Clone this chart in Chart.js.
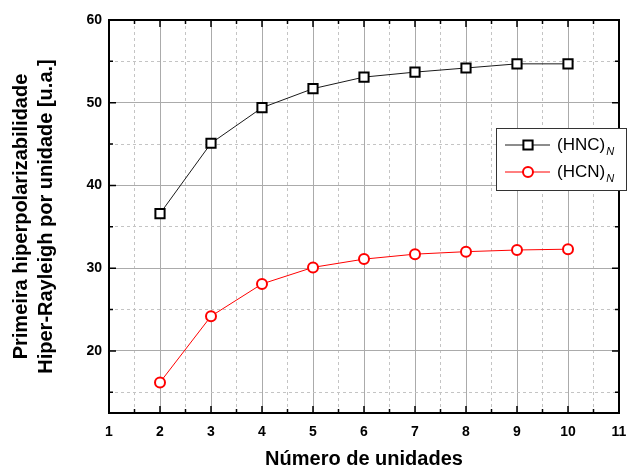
<!DOCTYPE html>
<html><head><meta charset="utf-8">
<script src="https://cdn.jsdelivr.net/npm/chart.js@4"></script>
<style>html,body{margin:0;padding:0;background:#fff;overflow:hidden}</style>
</head><body>
<canvas id="c" width="630" height="468" style="width:630px;height:468px;display:block"></canvas>
<script>
// ---- data ----
const units = [2, 3, 4, 5, 6, 7, 8, 9, 10];
const hncValues = [36.6, 45.1, 49.4, 51.7, 53.1, 53.7, 54.2, 54.7, 54.7];
const hcnValues = [16.2, 24.2, 28.1, 30.1, 31.1, 31.7, 32.0, 32.2, 32.3];
const seriesNames = ['(HNC)', '(HCN)'];
const seriesSub = 'N';
const xTitle = 'Número de unidades';
const yTitle = ['Primeira hiperpolarizabilidade', 'Hiper-Rayleigh por unidade [u.a.]'];
const xRange = [1, 11];
const yRange = [12.5, 60];

const FONT = "'Liberation Sans', Arial, sans-serif";
const toPts = (vals) => units.map((u, i) => ({x: u, y: vals[i]}));
const isInt = (v) => Math.abs(v - Math.round(v)) < 1e-6;
const isTen = (v) => Math.abs(v / 10 - Math.round(v / 10)) < 1e-6;
const isFive = (v) => Math.abs(v / 5 - Math.round(v / 5)) < 1e-6;

const styles = [
  {pointStyle: 'rect', radius: 6.5, borderWidth: 2, point: '#000000', line: '#1a1a1a'},
  {pointStyle: 'circle', radius: 5, borderWidth: 2, point: '#ff0000', line: '#ff0000'}
];

const framePlugin = {
  id: 'frame',
  afterDraw(chart) {
    const ctx = chart.ctx;
    const {left, right, top, bottom} = chart.chartArea;
    const xs = chart.scales.x, ys = chart.scales.y;
    ctx.save();
    ctx.strokeStyle = '#000';
    ctx.lineWidth = 1.5;
    ctx.beginPath();
    xs.ticks.forEach(t => {
      const p = xs.getPixelForValue(t.value);
      const len = isInt(t.value) ? 7 : 4;
      ctx.moveTo(p, bottom); ctx.lineTo(p, bottom - len);
      ctx.moveTo(p, top); ctx.lineTo(p, top + len);
    });
    ys.ticks.forEach(t => {
      if (!isFive(t.value)) return;
      const p = ys.getPixelForValue(t.value);
      const len = isTen(t.value) ? 7 : 4;
      ctx.moveTo(left, p); ctx.lineTo(left + len, p);
      ctx.moveTo(right, p); ctx.lineTo(right - len, p);
    });
    ctx.stroke();
    ctx.lineWidth = 2;
    ctx.strokeRect(left, top, right - left, bottom - top);
    ctx.restore();

    // legend
    ctx.save();
    const bx = 496, by = 128, bw = 130, bh = 62;
    ctx.fillStyle = '#fff';
    ctx.fillRect(bx, by, bw, bh);
    ctx.strokeStyle = '#333';
    ctx.lineWidth = 1;
    ctx.strokeRect(bx + 0.5, by + 0.5, bw, bh);
    const rows = [145, 172];
    seriesNames.forEach((name, i) => {
      const st = styles[i];
      const y = rows[i];
      ctx.strokeStyle = st.line;
      ctx.lineWidth = 1;
      ctx.beginPath();
      ctx.moveTo(505, y); ctx.lineTo(550, y);
      ctx.stroke();
      ctx.fillStyle = '#fff';
      ctx.strokeStyle = st.point;
      ctx.lineWidth = st.borderWidth;
      if (Chart.helpers && Chart.helpers.drawPoint) {
        Chart.helpers.drawPoint(ctx, {pointStyle: st.pointStyle, radius: st.radius, rotation: 0, borderWidth: st.borderWidth}, 528, y);
      }
      ctx.fillStyle = '#000';
      ctx.font = '17px ' + FONT;
      ctx.textBaseline = 'middle';
      ctx.textAlign = 'left';
      ctx.fillText(name, 557, y);
      const w = ctx.measureText(name).width;
      ctx.font = 'italic 11px ' + FONT;
      ctx.fillText(seriesSub, 557 + w + 1, y + 7);
    });
    ctx.restore();
  }
};

new Chart(document.getElementById('c'), {
  type: 'line',
  data: {
    datasets: [hncValues, hcnValues].map((vals, i) => ({
      label: seriesNames[i],
      data: toPts(vals),
      borderColor: styles[i].line,
      borderWidth: 1,
      pointStyle: styles[i].pointStyle,
      pointRadius: styles[i].radius,
      pointBorderWidth: styles[i].borderWidth,
      pointBorderColor: styles[i].point,
      pointBackgroundColor: '#ffffff',
      tension: 0,
      fill: false
    }))
  },
  options: {
    responsive: false,
    animation: false,
    devicePixelRatio: 1,
    layout: {padding: {left: 0, right: 11, top: 20, bottom: 0}},
    plugins: {legend: {display: false}, tooltip: {enabled: false}},
    scales: {
      x: {
        type: 'linear', position: 'bottom', min: xRange[0], max: xRange[1],
        afterFit: s => { s.height = 55; s.paddingLeft = 0; s.paddingRight = 0; },
        ticks: {
          stepSize: 0.5, autoSkip: false, maxRotation: 0, includeBounds: false,
          padding: 11, color: '#000', font: {family: FONT, size: 14, weight: 'bold'},
          callback: v => isInt(v) ? String(v) : ''
        },
        grid: {drawTicks: false, lineWidth: 1, color: c => isInt(c.tick.value) ? '#ababab' : 'rgba(0,0,0,0)'},
        border: {display: false},
        title: {display: true, text: xTitle, color: '#000', align: 'center',
          font: {family: FONT, size: 20, weight: 'bold', lineHeight: 0.9}, padding: {top: 0, bottom: 0}}
      },
      x2: {
        type: 'linear', position: 'top', min: xRange[0], max: xRange[1],
        afterFit: s => { s.height = 0; s.paddingLeft = 0; s.paddingRight = 0; },
        ticks: {display: false, stepSize: 0.5, autoSkip: false, includeBounds: false},
        grid: {drawTicks: false, lineWidth: 1, color: c => isInt(c.tick.value) ? 'rgba(0,0,0,0)' : '#c4c4c4'},
        border: {display: false, dash: [3, 3]}
      },
      y: {
        type: 'linear', position: 'left', min: yRange[0], max: yRange[1],
        afterFit: s => { s.width = 109; s.paddingTop = 0; s.paddingBottom = 0; },
        ticks: {
          stepSize: 5, autoSkip: false, includeBounds: false,
          padding: 7, color: '#000', font: {family: FONT, size: 14, weight: 'bold'},
          callback: v => isTen(v) ? String(v) : ''
        },
        grid: {drawTicks: false, lineWidth: 1, color: c => isTen(c.tick.value) ? '#ababab' : 'rgba(0,0,0,0)'},
        border: {display: false},
        title: {display: true, text: yTitle, color: '#000', align: 'center',
          font: {family: FONT, size: 20, weight: 'bold', lineHeight: 1.25}, padding: {top: 9, bottom: 0}}
      },
      y2: {
        type: 'linear', position: 'right', min: yRange[0], max: yRange[1],
        afterFit: s => { s.width = 0; s.paddingTop = 0; s.paddingBottom = 0; },
        ticks: {display: false, stepSize: 5, autoSkip: false, includeBounds: false},
        grid: {drawTicks: false, lineWidth: 1, color: c => (isFive(c.tick.value) && !isTen(c.tick.value)) ? '#c4c4c4' : 'rgba(0,0,0,0)'},
        border: {display: false, dash: [3, 3]}
      }
    }
  },
  plugins: [framePlugin]
});
</script>
</body></html>
